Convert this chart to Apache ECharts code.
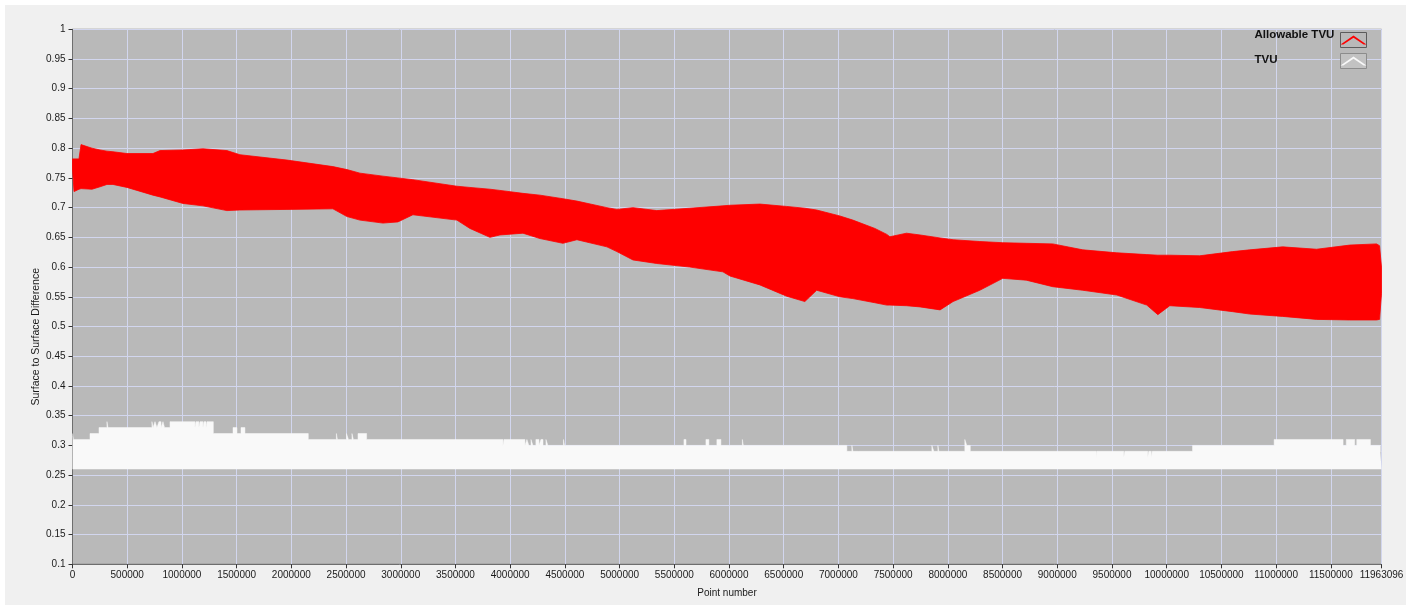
<!DOCTYPE html>
<html>
<head>
<meta charset="utf-8">
<script src="https://cdn.jsdelivr.net/npm/echarts@6/dist/echarts.min.js"></script>
<style>
html,body{margin:0;padding:0;background:#fff;}
#chart{width:1419px;height:605px;}
</style>
</head>
<body>
<div id="chart"></div>
<script>
// Allowable TVU envelope (upper / lower edges of the dense red band)
const redX = [0,14000,59000,78000,178000,251000,315000,370000,498000,735000,800000,1010000,1192000,1411000,1530000,1960000,2380000,2508000,2627000,2837000,2974000,3111000,3513000,3632000,3815000,3906000,4117000,4272000,4482000,4610000,4884000,4975000,5122000,5340000,5642000,5944000,6008000,6282000,6527000,6693000,6801000,7013000,7132000,7333000,7442000,7470000,7622000,7746000,7929000,8048000,8292000,8502000,8716000,8959000,9233000,9544000,9818000,9919000,10028000,10302000,10603000,10759000,11060000,11370000,11673000,11918000,11945000,11963096];
const redUpper = [0.782,0.782,0.782,0.806,0.800,0.797,0.795,0.794,0.791,0.791,0.796,0.797,0.799,0.796,0.789,0.780,0.769,0.764,0.758,0.753,0.750,0.747,0.736,0.734,0.731,0.729,0.724,0.721,0.715,0.711,0.700,0.697,0.700,0.695,0.699,0.703,0.704,0.706,0.702,0.699,0.696,0.686,0.679,0.665,0.655,0.651,0.657,0.654,0.649,0.646,0.643,0.641,0.640,0.639,0.629,0.624,0.621,0.620,0.620,0.619,0.626,0.629,0.634,0.630,0.637,0.639,0.636,0.600];
const redLower = [0.765,0.727,0.731,0.732,0.731,0.735,0.739,0.739,0.734,0.721,0.718,0.707,0.703,0.695,0.696,0.697,0.698,0.685,0.679,0.674,0.676,0.688,0.679,0.665,0.650,0.654,0.657,0.648,0.640,0.646,0.634,0.626,0.612,0.606,0.600,0.592,0.585,0.570,0.551,0.542,0.561,0.550,0.547,0.540,0.536,0.536,0.535,0.533,0.528,0.542,0.561,0.581,0.578,0.567,0.561,0.553,0.536,0.520,0.535,0.532,0.525,0.521,0.517,0.512,0.511,0.511,0.512,0.555];

// TVU (white band): step levels, band floor
const tvuFloor = 0.26;
const tvuX = [0,9000,160000,242000,315000,324000,726000,736000,754000,772000,790000,809000,827000,841000,891000,1119000,1128000,1155000,1165000,1192000,1201000,1220000,1229000,1287000,1467000,1503000,1540000,1576000,2155000,2412000,2421000,2504000,2522000,2554000,2567000,2609000,2688000,3934000,3943000,4135000,4153000,4171000,4190000,4208000,4235000,4263000,4281000,4300000,4327000,4345000,4487000,4496000,5588000,5607000,5789000,5816000,5889000,5926000,6122000,6131000,7077000,7123000,7132000,7187000,7854000,7872000,7909000,7918000,8155000,8173000,8205000,9357000,9362000,9608000,9617000,9827000,9836000,9859000,9868000,10236000,10982000,11612000,11641000,11718000,11737000,11862000,11952000,11963096];
const tvuTop = [0.32,0.31,0.32,0.33,0.34,0.33,0.34,0.33,0.34,0.33,0.34,0.33,0.34,0.33,0.34,0.33,0.34,0.33,0.34,0.33,0.34,0.33,0.34,0.32,0.33,0.32,0.33,0.32,0.31,0.32,0.31,0.32,0.31,0.32,0.31,0.32,0.31,0.30,0.31,0.30,0.31,0.30,0.31,0.30,0.31,0.30,0.31,0.30,0.31,0.30,0.31,0.30,0.31,0.30,0.31,0.30,0.31,0.30,0.31,0.30,0.29,0.30,0.29,0.29,0.30,0.29,0.30,0.29,0.31,0.30,0.29,0.28,0.29,0.28,0.29,0.28,0.29,0.28,0.29,0.30,0.31,0.30,0.31,0.30,0.31,0.30,0.29,0.29];

const xMax = 11963096;
const xInterval = 500000;
const yMin = 0.1, yMax = 1, yInterval = 0.05;

const FONT = 'Liberation Sans';
const RED = '#fe0000';
const WHITE = '#f9f9f9';

const redData = redX.map((x, i) => [x, redUpper[i], redLower[i]]);
const tvuData = tvuX.map((x, i) => [x, tvuTop[i]]);

function renderBand(params, api) {
  if (params.dataIndex !== 0) return null;
  const pts = [];
  for (let i = 0; i < redX.length; i++) pts.push(api.coord([redX[i], redUpper[i]]));
  for (let i = redX.length - 1; i >= 0; i--) pts.push(api.coord([redX[i], redLower[i]]));
  return {
    type: 'polygon',
    shape: {points: pts},
    style: {fill: RED, stroke: RED, lineWidth: 0.8}
  };
}

const chart = echarts.init(document.getElementById('chart'), null, {renderer: 'canvas'});
chart.setOption({
  animation: false,
  backgroundColor: '#f0f0f0',
  textStyle: {fontFamily: FONT},
  graphic: [
    {type: 'rect', z: 1, shape: {x: 0, y: 0, width: 1419, height: 5}, style: {fill: '#ffffff'}},
    {type: 'rect', z: 1, shape: {x: 0, y: 0, width: 5, height: 605}, style: {fill: '#ffffff'}},
    {type: 'rect', z: 1, shape: {x: 1406, y: 0, width: 13, height: 605}, style: {fill: '#ffffff'}},
    {type: 'rect', z: 3, shape: {x: 1340.5, y: 32.5, width: 26, height: 15}, style: {fill: '#b9b9b9', stroke: '#5c5c5c', lineWidth: 1}},
    {type: 'rect', z: 3, shape: {x: 1340.5, y: 53.5, width: 26, height: 15}, style: {fill: '#c2c2c2', stroke: '#8c8c8c', lineWidth: 1}}
  ],
  grid: {
    left: 72.5, right: 37.5, top: 29.3, bottom: 40.7,
    show: true, backgroundColor: '#b9b9b9', borderColor: '#6e6e6e', borderWidth: 1
  },
  legend: {
    z: 6,
    data: [
      {name: 'Allowable TVU', textStyle: {padding: [0, 0, 10, 0]}},
      {name: 'TVU', textStyle: {padding: [0, 0, 2, 0]}}
    ],
    orient: 'vertical',
    align: 'right',
    right: 52.5,
    top: 28.5,
    padding: 0,
    itemWidth: 26,
    itemHeight: 15,
    itemGap: 2,
    selectedMode: false,
    icon: 'path://M0,9 L13,0 L26,9 L23.2,9 L13,2.3 L2.8,9 Z',
    itemStyle: {borderWidth: 0},
    formatter: name => '{a|' + name + '}',
    textStyle: {
      lineHeight: 13,
      rich: {a: {width: 81, align: 'left', lineHeight: 13, height: 13, fontWeight: 'bold', fontSize: 11.5, fontFamily: FONT, color: '#111'}}
    }
  },
  xAxis: {
    type: 'value',
    min: 0, max: xMax, interval: xInterval,
    name: 'Point number',
    nameLocation: 'middle',
    nameGap: 24,
    nameMoveOverlap: false,
    nameTextStyle: {fontSize: 10, color: '#1a1a1a', fontFamily: FONT},
    axisLine: {show: true, lineStyle: {color: '#6e6e6e', width: 1}},
    axisTick: {show: true, length: 4, lineStyle: {color: '#333'}},
    axisLabel: {fontSize: 10, color: '#1a1a1a', margin: 6, showMaxLabel: true, showMinLabel: true, hideOverlap: false,
      formatter: v => String(Math.round(v))},
    splitLine: {show: true, lineStyle: {color: '#d2d6ee', width: 1}}
  },
  yAxis: {
    type: 'value',
    min: yMin, max: yMax, interval: yInterval,
    name: 'Surface to Surface Difference',
    nameLocation: 'middle',
    nameGap: 31,
    nameMoveOverlap: false,
    nameTextStyle: {fontSize: 10.5, color: '#1a1a1a', fontFamily: FONT, padding: [0, 80, 0, 0]},
    axisLine: {show: true, lineStyle: {color: '#6e6e6e', width: 1}},
    axisTick: {show: true, length: 4, lineStyle: {color: '#333'}},
    axisLabel: {fontSize: 10, color: '#1a1a1a', margin: 7,
      formatter: v => String(+(+v).toFixed(2))},
    splitLine: {show: true, lineStyle: {color: '#d2d6ee', width: 1}}
  },
  series: [
    {
      name: 'TVU',
      type: 'line',
      step: 'end',
      data: tvuData,
      symbol: 'none',
      silent: true,
      color: WHITE,
      itemStyle: {color: WHITE},
      lineStyle: {width: 0.5, color: WHITE},
      areaStyle: {color: WHITE, opacity: 1, origin: tvuFloor},
      z: 3
    },
    {
      name: 'Allowable TVU',
      type: 'custom',
      data: redData,
      encode: {x: 0, y: [1, 2]},
      silent: true,
      itemStyle: {color: RED},
      renderItem: renderBand,
      z: 2
    }
  ]
});
</script>
</body>
</html>
